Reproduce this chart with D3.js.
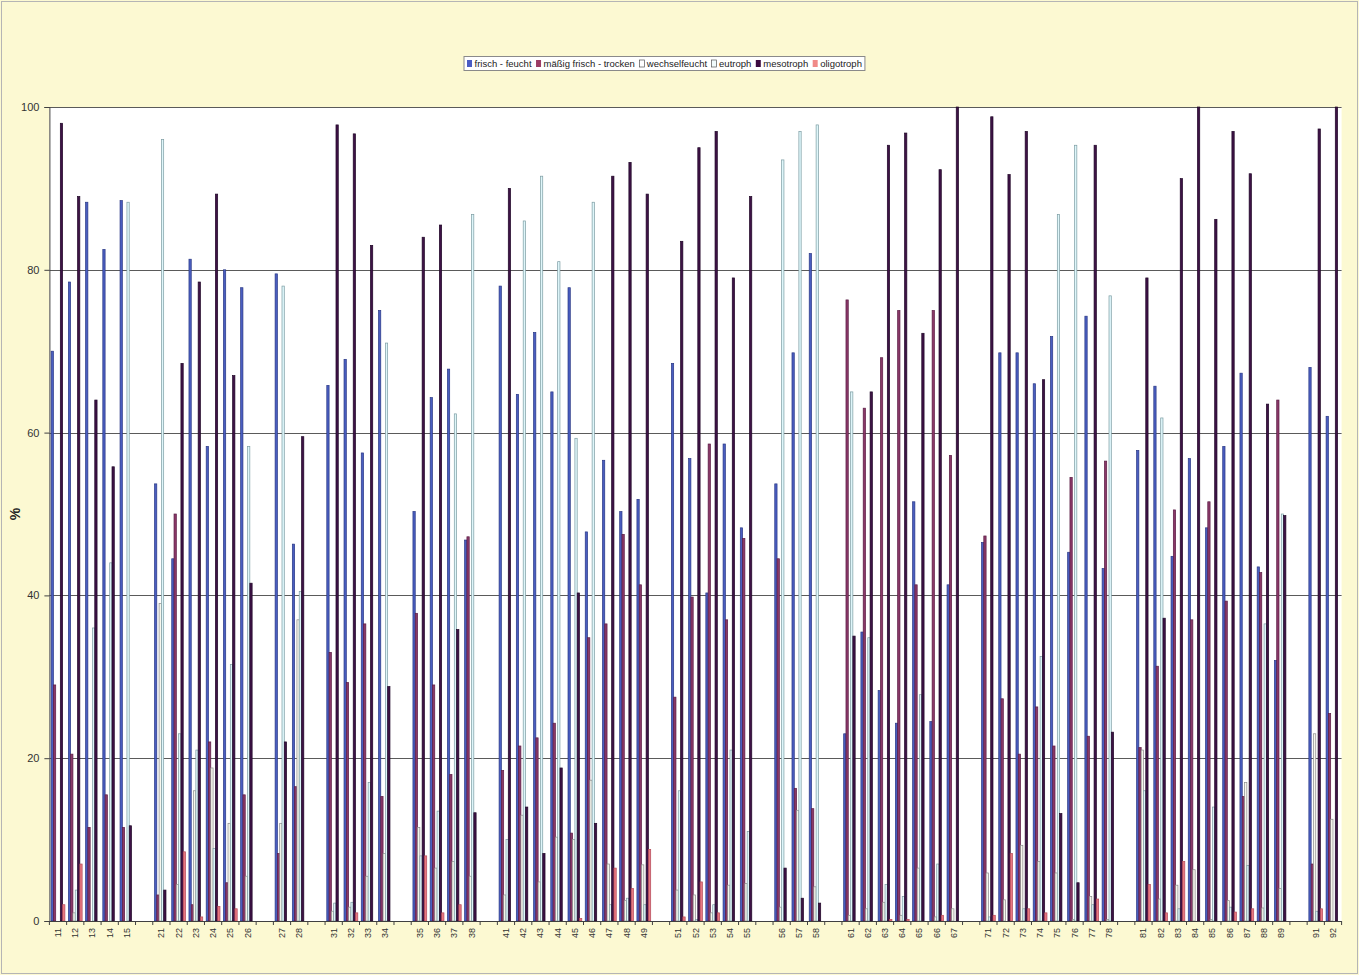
<!DOCTYPE html>
<html><head><meta charset="utf-8">
<script src="https://cdn.jsdelivr.net/npm/d3@7"></script>
<style>
html,body{margin:0;padding:0;background:#fcf9d2;}
svg{display:block;font-family:Arial,"Liberation Sans",sans-serif;}
</style></head>
<body>
<svg id="chart" width="1359" height="975"></svg>
<script>
// ---- data ----
const categories = ["11","12","13","14","15","",
  "21","22","23","24","25","26","",
  "27","28","",
  "31","32","33","34","",
  "35","36","37","38","",
  "41","42","43","44","45","46","47","48","49","",
  "51","52","53","54","55","",
  "56","57","58","",
  "61","62","63","64","65","66","67","",
  "71","72","73","74","75","76","77","78","",
  "81","82","83","84","85","86","87","88","89","",
  "91","92"];
const seriesNames = ["frisch - feucht","mäßig frisch - trocken","wechselfeucht","eutroph","mesotroph","oligotroph"];
const frischFeucht = [70,78.5,88.3,82.5,88.5,null, 53.7,44.5,81.3,58.3,80,77.8,null, 79.5,46.3,null, 65.8,69,57.5,75,null, 50.3,64.3,67.8,46.8,null, 78,64.7,72.3,65,77.8,47.8,56.6,50.3,51.8,null, 68.5,56.8,40.3,58.6,48.3,null, 53.7,69.8,82,null, 23,35.5,28.3,24.3,51.5,24.5,41.3,null, 46.5,69.8,69.8,66,71.8,45.3,74.3,43.3,null, 57.8,65.7,44.8,56.8,48.3,58.3,67.3,43.5,32,null, 68,62];
const maessigTrocken = [29,20.5,11.5,15.5,11.5,null, 3.2,50,2,22,4.7,15.5,null, 8.3,16.5,null, 33,29.3,36.5,15.3,null, 37.8,29,18,47.2,null, 18.5,21.5,22.5,24.3,10.8,34.8,36.5,47.5,41.3,null, 27.5,39.8,58.6,37,47,null, 44.5,16.3,13.8,null, 76.3,63,69.2,75,41.3,75,57.2,null, 47.3,27.3,20.5,26.3,21.5,54.5,22.7,56.5,null, 21.3,31.3,50.5,37,51.5,39.3,15.3,42.8,64,null, 7,25.5];
const wechselfeucht = [0,1,0,0,0,null, 39,4.5,16,18.8,12,5.5,null, 12,37,null, 1.2,1.7,5.5,8.3,null, 11.5,6.5,7.3,5.5,null, 3.2,13,4.8,10.3,10,17.3,7,2.5,6.9,null, 3.8,3.2,1,4.4,4.6,null, 1.7,13.6,4.2,null, 0.7,1.5,2.3,0.7,6.5,0.5,1.5,null, 5.9,2.6,9.3,7.3,5.9,0.2,3,0.2,null, 21,2.7,4.4,6.3,0.2,2.5,17,1.6,4,null, 23,12.5];
const eutroph = [0,3.8,36,44,88.3,null, 96,23,21,8.9,31.5,58.3,null, 78,40.5,null, 2.2,2.3,17,71,null, 8,13.5,62.3,86.8,null, 10,86,91.5,81,59.3,88.3,2,2.8,2,null, 16,0.2,2,21,11,null, 93.5,97,97.8,null, 65,34.8,4.5,3,27.8,7,0,null, 0.5,0,1.5,32.5,86.8,95.3,2,76.8,null, 16,61.8,1.5,0,14,1.7,6.8,36.5,50,null, 1.2,0];
const mesotroph = [98,89,64,55.8,11.7,null, 3.8,68.5,78.5,89.3,67,41.5,null, 22,59.5,null, 97.8,96.7,83,28.8,null, 84,85.5,35.8,13.3,null, 90,14,8.3,18.8,40.3,12,91.5,93.2,89.3,null, 83.5,95,97,79,89,null, 6.5,2.8,2.2,null, 35,65,95.3,96.8,72.2,92.3,100,null, 98.8,91.7,97,66.5,13.2,4.7,95.3,23.2,null, 79,37.2,91.2,100,86.2,97,91.8,63.5,49.8,null, 97.3,100];
const oligotroph = [2,7,0,0,0,null, 0,8.5,0.5,1.8,1.5,0,null, 0,0,null, 0,1,0,0,null, 8,1,2,0,null, 0,0,0,0,0.3,0,6.5,4,8.8,null, 0.5,4.8,1,0,0,null, 0,0,0,null, 0,0,0.2,0.2,0,0.7,0,null, 0.7,8.3,1.5,1,0,0,2.7,0,null, 4.5,1,7.3,0,0,1.1,1.5,0,0,null, 1.5,0];
const yTicks = [0,20,40,60,80,100];
const yTitle = "%";

(function(){
// ---- styles ----
const fills  = ["#4a5ec0","#8a3868","#f7f7ee","#def6fa","#3e1246","#e87882"];
const strokes= ["#2a3885","#5a1c44","#8a8a8a","#7c9ca2","#1e0626","#b44a58"];
const legendFills = ["#4a5cc4","#9c3c66","#ffffff","#f0fbfc","#3a0a40","#f08a88"];

const seriesData = [frischFeucht, maessigTrocken, wechselfeucht, eutroph, mesotroph, oligotroph];

const svg = d3.select("#chart");
svg.append("rect").attr("x",1.5).attr("y",1.5).attr("width",1356).attr("height",972)
  .attr("fill","#fcf9d2").attr("stroke","#b5b5b5");

const pLeft = 49.4, pRight = 1341.6, pTop = 107, pBottom = 921;
const x0 = d3.scaleBand().domain(d3.range(categories.length)).range([pLeft,pRight]).paddingInner(0).paddingOuter(0);
const x1 = d3.scaleBand().domain(d3.range(seriesNames.length)).range([0,x0.bandwidth()]).paddingInner(0).paddingOuter(0.75);
const y = d3.scaleLinear().domain([0,100]).range([pBottom,pTop]);

// plot area
svg.append("rect").attr("x",pLeft).attr("y",pTop).attr("width",pRight-pLeft).attr("height",pBottom-pTop)
  .attr("fill","#ffffff");

// gridlines
svg.append("g").selectAll("line").data(yTicks.filter(d=>d>0)).join("line")
  .attr("x1",pLeft).attr("x2",pRight).attr("y1",d=>Math.round(y(d))+0.5).attr("y2",d=>Math.round(y(d))+0.5)
  .attr("stroke","#5a5a5a").attr("stroke-width",1);

// bars
const gBars = svg.append("g");
categories.forEach((c,i)=>{
  if(!c) return;
  seriesData.forEach((arr,k)=>{
    const v = arr[i];
    if(v==null || v<=0) return;
    gBars.append("rect")
      .attr("x", x0(i)+x1(k))
      .attr("y", y(v))
      .attr("width", x1.bandwidth())
      .attr("height", y(0)-y(v))
      .attr("fill", fills[k])
      .attr("stroke", strokes[k])
      .attr("stroke-width", 0.7);
  });
});

// y axis
const yAxis = svg.append("g").attr("transform",`translate(${pLeft},0)`)
  .call(d3.axisLeft(y).tickValues(yTicks).tickSize(5).tickPadding(5));
yAxis.select(".domain").attr("stroke","#404040");
yAxis.selectAll(".tick line").attr("stroke","#404040");
yAxis.selectAll("text").attr("font-size",11).attr("fill","#333").attr("font-family","Arial, 'Liberation Sans', sans-serif");

// x axis
const xg = svg.append("g");
xg.append("line").attr("x1",pLeft).attr("x2",pRight).attr("y1",pBottom+0.5).attr("y2",pBottom+0.5).attr("stroke","#404040");
xg.selectAll("line.tk").data(d3.range(categories.length+1)).join("line").attr("class","tk")
  .attr("x1",d=>pLeft+d*x0.step()).attr("x2",d=>pLeft+d*x0.step())
  .attr("y1",pBottom).attr("y2",pBottom+4).attr("stroke","#404040");
xg.selectAll("text").data(categories.map((c,i)=>({c,i})).filter(d=>d.c)).join("text")
  .attr("transform",d=>`translate(${x0(d.i)+x0.bandwidth()/2+3},${pBottom+7}) rotate(-90)`)
  .attr("text-anchor","end").attr("font-size",9).attr("fill","#333")
  .text(d=>d.c);

// y title
svg.append("text").attr("transform",`translate(20,${(pTop+pBottom)/2}) rotate(-90)`)
  .attr("text-anchor","middle").attr("font-size",14).attr("font-weight","bold").attr("fill","#222")
  .text(yTitle);

// legend
const lg = svg.append("g");
const box = lg.append("rect").attr("y",56.5).attr("height",14).attr("fill","#ffffff").attr("stroke","#8a8a8a");
let cx = 0;
const items = lg.append("g");
seriesNames.forEach((n,k)=>{
  items.append("rect").attr("x",cx).attr("y",60).attr("width",5).attr("height",7)
    .attr("fill",legendFills[k]).attr("stroke",k===2||k===3?"#555":"none").attr("stroke-width",0.7);
  const t = items.append("text").attr("x",cx+7.5).attr("y",67).attr("font-size",9.5).attr("fill","#222").text(n);
  cx += 7.5 + t.node().getComputedTextLength() + 4.5;
});
const totalW = cx - 4.5;
const startX = 467;
items.attr("transform",`translate(${startX},0)`);
box.attr("x",startX-3).attr("width",totalW+6);
})();
</script>
</body></html>
